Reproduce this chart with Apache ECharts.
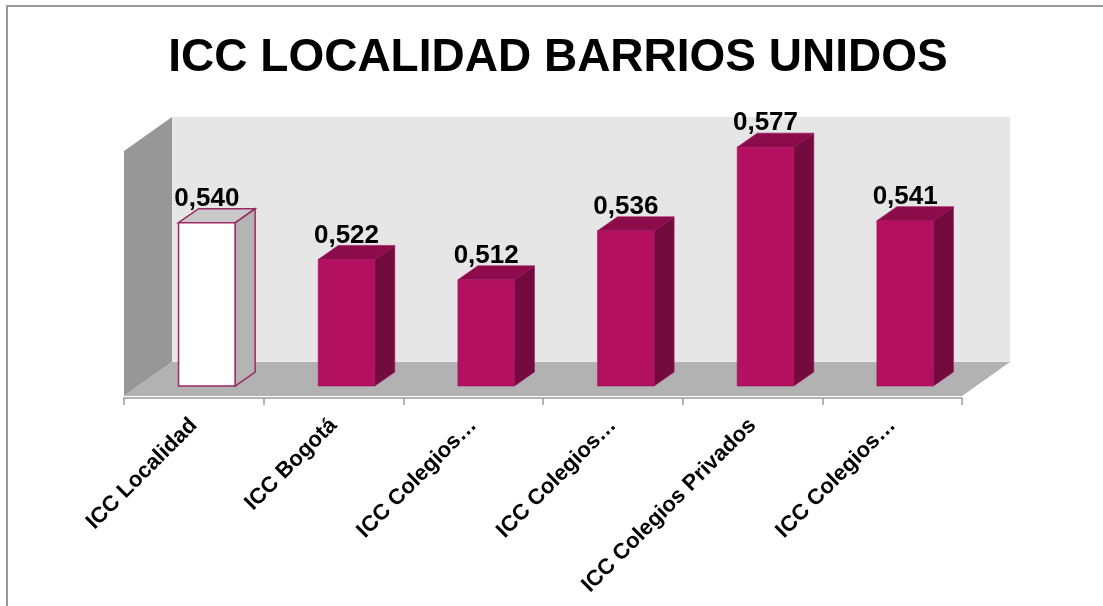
<!DOCTYPE html>
<html>
<head>
<meta charset="utf-8">
<script src="https://cdn.jsdelivr.net/npm/echarts@6/dist/echarts.min.js"></script>
<style>
html,body{margin:0;padding:0;background:#fff;}
#chart{width:1103px;height:606px;}
</style>
</head>
<body>
<div id="chart"></div>
<script>
const titleText = 'ICC LOCALIDAD BARRIOS UNIDOS';
const categories = ['ICC Localidad', 'ICC Bogotá', 'ICC Colegios…', 'ICC Colegios…', 'ICC Colegios Privados', 'ICC Colegios…'];
const values = [0.540, 0.522, 0.512, 0.536, 0.577, 0.541];
const axisMin = 0.46;
const axisMax = 0.58;

const FONT = '"Liberation Sans", Arial, sans-serif';
const floorDepth = [48, -34];   // depth of the 3D floor / walls
const barShift = [13, -10];     // bars sit part-way into the depth
const barDepth = [20, -14];     // depth of each bar

const chart = echarts.init(document.getElementById('chart'), null, {renderer: 'canvas'});

function fmt(v) { return v.toFixed(3).replace('.', ','); }

function renderWalls(params, api) {
  const cs = params.coordSys;
  const x0 = cs.x, x1 = cs.x + cs.width, yT = cs.y, yB = cs.y + cs.height;
  const dx = floorDepth[0], dy = floorDepth[1];
  return {
    type: 'group',
    children: [
      { type: 'polygon', shape: { points: [[x0 + dx, yT + dy], [x1 + dx, yT + dy], [x1 + dx, yB + dy], [x0 + dx, yB + dy]] },
        style: { fill: '#e6e6e6', stroke: '#eeeeee', lineWidth: 1 } },
      { type: 'polygon', shape: { points: [[x0, yT], [x0 + dx, yT + dy], [x0 + dx, yB + dy], [x0, yB]] },
        style: { fill: '#979797' } },
      { type: 'polygon', shape: { points: [[x0, yB], [x0 + dx, yB + dy], [x1 + dx, yB + dy], [x1, yB]] },
        style: { fill: '#b2b2b2' } }
    ]
  };
}

function renderBar(params, api) {
  const i = api.value(0), v = api.value(1);
  const top = api.coord([i, v]);
  const base = api.coord([i, axisMin]);
  const w = api.size([1, 0])[0] * 0.405;
  const cx = top[0] + barShift[0];
  const xl = cx - w / 2, xr = cx + w / 2;
  const yt = top[1] + barShift[1], yb = base[1] + barShift[1];
  const ddx = barDepth[0], ddy = barDepth[1];
  const hollow = params.dataIndex === 0;
  const frontFill = hollow ? '#ffffff' : '#b3115f';
  const sideFill = hollow ? '#b4b4b4' : '#740b3e';
  const topFill = hollow ? '#c9c9c9' : '#8c0c4b';
  const edge = hollow ? '#9a2a62' : '#a0105a';
  const lw = hollow ? 1.5 : 0.6;
  return {
    type: 'group',
    children: [
      { type: 'polygon', shape: { points: [[xr, yt], [xr + ddx, yt + ddy], [xr + ddx, yb + ddy], [xr, yb]] },
        style: { fill: sideFill, stroke: edge, lineWidth: lw } },
      { type: 'polygon', shape: { points: [[xl, yt], [xl + ddx, yt + ddy], [xr + ddx, yt + ddy], [xr, yt]] },
        style: { fill: topFill, stroke: edge, lineWidth: lw } },
      { type: 'rect', shape: { x: xl, y: yt, width: w, height: yb - yt },
        style: { fill: frontFill, stroke: edge, lineWidth: lw } },
      { type: 'text', x: cx, y: yt + ddy + 3,
        style: { text: fmt(v), fill: '#000', font: 'bold 26px ' + FONT, textAlign: 'center', textVerticalAlign: 'bottom' } }
    ]
  };
}

const option = {
  animation: false,
  backgroundColor: '#ffffff',
  graphic: [
    { type: 'polyline', shape: { points: [[7, 606], [7, 6], [1103, 6]] }, style: { stroke: '#9a9a9a', lineWidth: 2, fill: null } },
    { type: 'text', x: 558, y: 58, style: { text: titleText, font: 'bold 46px ' + FONT, fill: '#000', textAlign: 'center', textVerticalAlign: 'middle' } }
  ],
  grid: { left: 124, right: 141, top: 151, bottom: 210, containLabel: false },
  xAxis: {
    type: 'category',
    data: categories,
    offset: 2,
    axisLine: { show: true, lineStyle: { color: '#9a9a9a', width: 1.5 } },
    axisTick: { show: true, length: 7, lineStyle: { color: '#9a9a9a', width: 1.5 } },
    axisLabel: { rotate: 45, margin: 24, interval: 0, color: '#000', fontFamily: FONT, fontWeight: 'bold', fontSize: 22 },
    splitLine: { show: false }
  },
  yAxis: {
    type: 'value', min: axisMin, max: axisMax, show: false
  },
  series: [
    { type: 'custom', name: 'walls', renderItem: renderWalls, data: [[0, axisMin]], z: 1, silent: true },
    { type: 'custom', name: 'ICC', renderItem: renderBar, data: values.map((v, i) => [i, v]), z: 2 }
  ]
};
chart.setOption(option);
</script>
</body>
</html>
